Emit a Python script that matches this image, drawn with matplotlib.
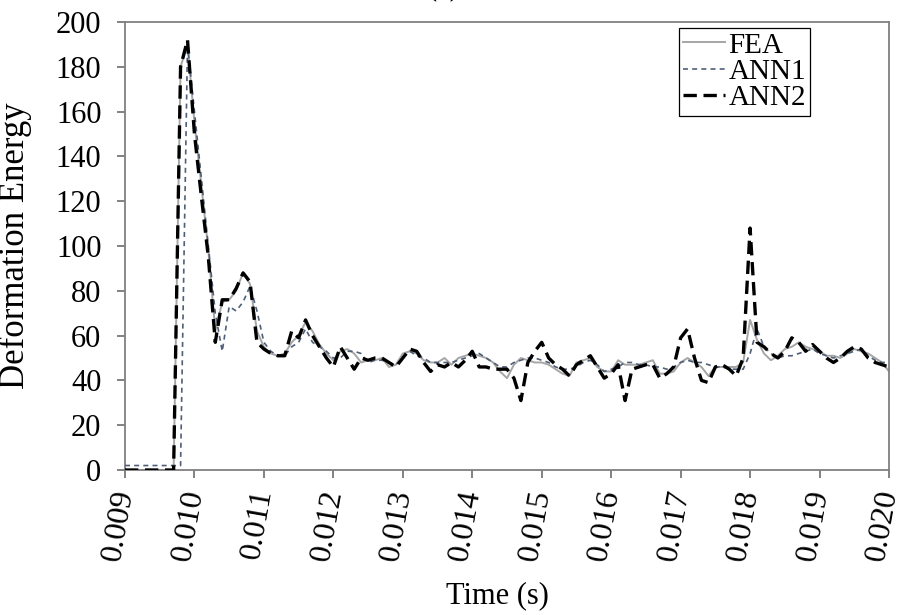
import numpy as np
import matplotlib
matplotlib.use("Agg")
import matplotlib.pyplot as plt

# time grid, one sample every 0.1 ms
time_s = np.linspace(0.009, 0.020, 111)

fea = [0, 0, 0, 0, 0, 0, 0, 0,
       180, 190, 155, 127, 98, 62, 75, 76, 80, 88, 83, 62,
       55, 52, 51, 52, 57, 60, 66, 62, 56, 52,
       49, 53, 54, 52, 48, 49, 49, 50, 46, 47,
       52, 53, 52, 49, 48, 48, 50, 47, 50, 51,
       52, 51, 50, 48, 44, 41, 47, 50, 49, 48,
       48, 47, 45, 43, 42, 48, 49, 50, 46, 44,
       44, 49, 47, 47, 47, 48, 49, 43, 43, 44,
       48, 50, 48, 46, 42, 46, 46, 46, 46, 48,
       67, 58, 52, 49, 51, 54, 55, 57, 55, 54,
       53, 51, 51, 50, 52, 54, 53, 52, 50, 48, 44]

ann1 = [2, 2, 2, 2, 2, 2, 2, 2, 2,
        190, 160, 130, 100, 70, 53, 73, 71, 75, 82, 71,
        57, 53, 51, 51, 55, 57, 63, 57, 55, 53,
        50, 50, 53, 53, 52, 48, 49, 49, 48, 47,
        50, 53, 51, 50, 48, 48, 48, 48, 49, 50,
        51, 52, 50, 48, 46, 46, 48, 49, 50, 50,
        49, 48, 46, 45, 45, 46, 48, 49, 47, 44,
        45, 46, 48, 48, 47, 47, 46, 46, 45, 46,
        48, 49, 48, 48, 47, 46, 46, 45, 45, 45,
        52, 63, 55, 52, 50, 51, 51, 52, 53, 54,
        52, 51, 50, 51, 52, 53, 54, 51, 49, 48, 48]

ann2 = [0, 0, 0, 0, 0, 0, 0, 0,
        180, 192, 150, 122, 95, 57, 76, 76, 81, 88, 84, 57,
        54, 52, 51, 51, 62, 59, 67, 60, 55, 50,
        46, 55, 50, 45, 50, 49, 50, 50, 48, 46,
        50, 54, 53, 48, 44, 47, 46, 48, 46, 49,
        53, 46, 46, 45, 45, 45, 41, 31, 48, 53,
        57, 50, 47, 45, 42, 47, 49, 51, 46, 41,
        43, 47, 31, 45, 46, 47, 47, 41, 43, 46,
        59, 63, 50, 40, 39, 46, 47, 45, 42, 50,
        108, 57, 55, 52, 50, 53, 59, 57, 53, 56,
        53, 50, 48, 50, 53, 55, 54, 50, 48, 47, 46]

x_ticks = [0.009, 0.010, 0.011, 0.012, 0.013, 0.014, 0.015,
           0.016, 0.017, 0.018, 0.019, 0.020]
y_ticks = list(range(0, 201, 20))

plt.rcParams["font.family"] = ["Liberation Serif", "DejaVu Serif"]
plt.rcParams["font.size"] = 22

fig = plt.figure(figsize=(8.97, 6.15), dpi=100)
ax = fig.add_axes([125 / 897, 1 - 470 / 615, 764 / 897, 448 / 615])

ax.plot(time_s, fea, color="#a6a6a6", lw=1.4, label="FEA", zorder=2)
ax.plot(time_s, ann1, color="#4f5f78", lw=1.2, ls=(0, (3, 2.5)), label="ANN1", zorder=3)
ax.plot(time_s, ann2, color="black", lw=2.4, ls=(0, (4, 2)), label="ANN2", zorder=4)

ax.set_xlim(0.009, 0.020)
ax.set_ylim(0, 200)
ax.set_xticks(x_ticks)
ax.set_xticklabels([f"{v:.3f}" for v in x_ticks], rotation=80,
                   rotation_mode="anchor", ha="right", va="center", fontsize=23)
ax.set_yticks(y_ticks)

for sp in ax.spines.values():
    sp.set_color("#808080")
    sp.set_linewidth(1.3)
ax.tick_params(direction="out", length=6, width=1.1, color="#606060")
ax.tick_params(axis="y", pad=11, labelsize=22)
ax.tick_params(axis="x", pad=8)

ax.set_xlabel("Time (s)", fontsize=22)
ax.xaxis.set_label_coords(0.488, -0.248)
ax.set_ylabel("Deformation Energy", fontsize=25, va="center")
ax.yaxis.set_label_coords(-0.144, 0.5)

leg = ax.legend(loc="upper right", bbox_to_anchor=(0.897, 0.987), fontsize=21,
                frameon=True, fancybox=False, edgecolor="black", framealpha=1,
                handlelength=1.45, handletextpad=0.1, borderpad=0.15,
                labelspacing=0.0, borderaxespad=0)
leg.get_frame().set_linewidth(0.9)

fig.text(443 / 897, 1 - 1 / 615, "(c)", ha="center", va="bottom", fontsize=22)

fig.savefig("out.png", dpi=100)
